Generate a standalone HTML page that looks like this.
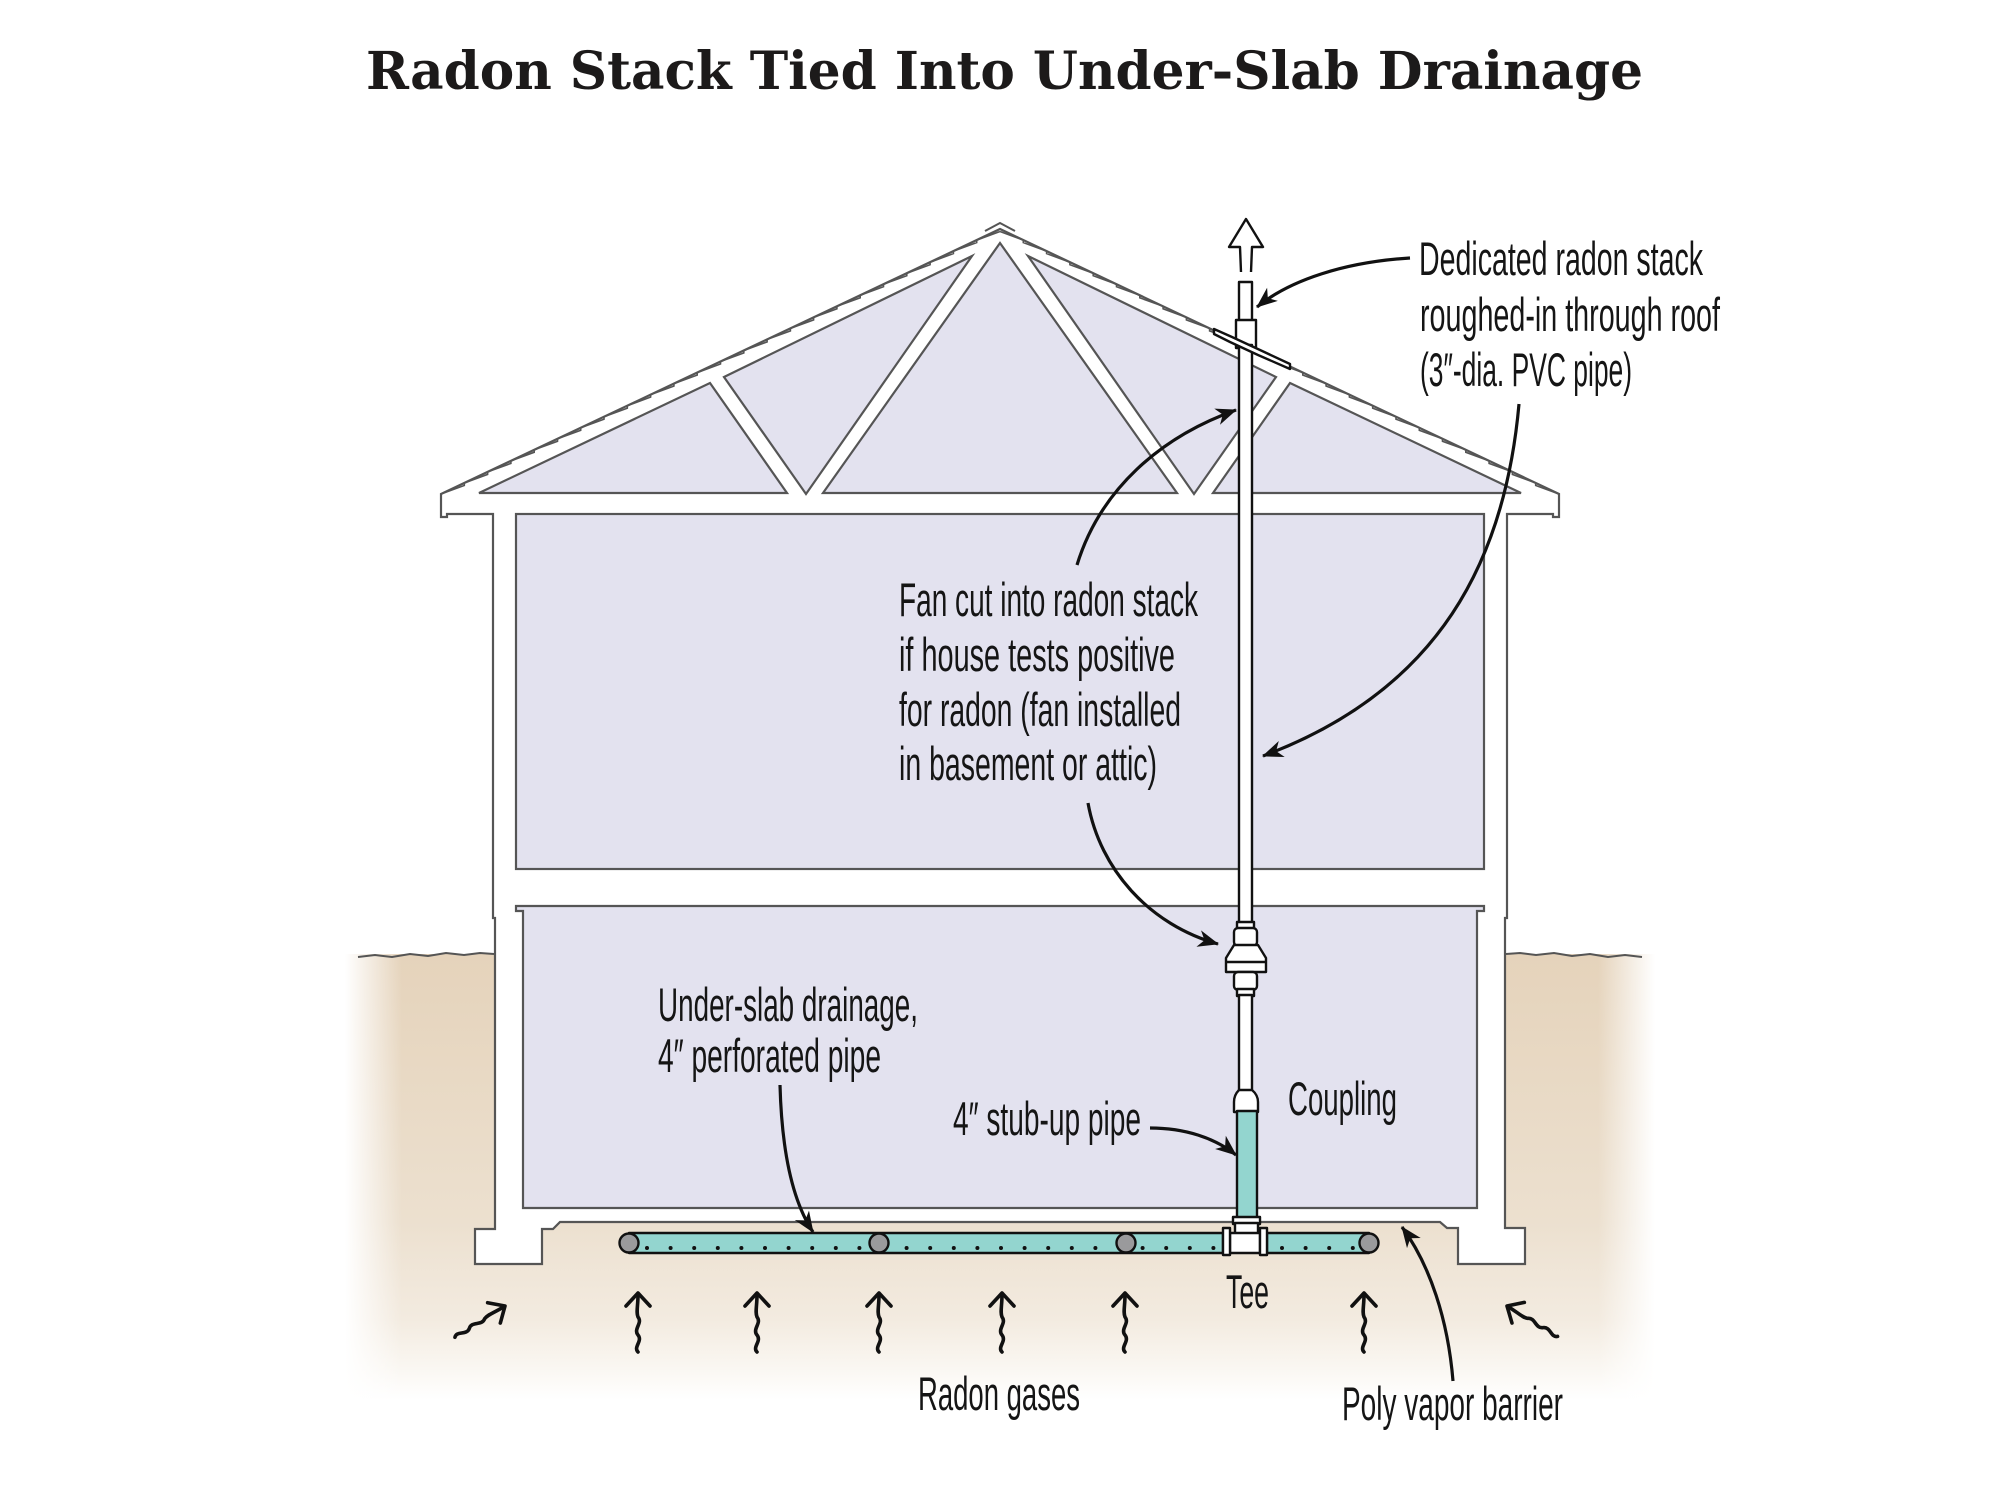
<!DOCTYPE html>
<html>
<head>
<meta charset="utf-8">
<style>
html,body{margin:0;padding:0;background:#fff;}
svg{display:block;}
.lbl{font-family:"Liberation Sans Narrow","Liberation Sans",sans-serif;font-size:47px;fill:#151515;}
</style>
</head>
<body>
<svg width="1999" height="1492" viewBox="0 0 1999 1492" xmlns="http://www.w3.org/2000/svg">
<defs>
  <linearGradient id="soilV" x1="0" y1="955" x2="0" y2="1400" gradientUnits="userSpaceOnUse">
    <stop offset="0" stop-color="#e5d3bb"/>
    <stop offset="0.6" stop-color="#ece0cf"/>
    <stop offset="0.82" stop-color="#f3ebe0"/>
    <stop offset="0.93" stop-color="#faf7f2"/>
    <stop offset="1" stop-color="#ffffff"/>
  </linearGradient>
  <linearGradient id="fadeL" x1="345" y1="0" x2="402" y2="0" gradientUnits="userSpaceOnUse">
    <stop offset="0" stop-color="#fff" stop-opacity="1"/>
    <stop offset="1" stop-color="#fff" stop-opacity="0"/>
  </linearGradient>
  <linearGradient id="fadeR" x1="1598" y1="0" x2="1655" y2="0" gradientUnits="userSpaceOnUse">
    <stop offset="0" stop-color="#fff" stop-opacity="0"/>
    <stop offset="1" stop-color="#fff" stop-opacity="1"/>
  </linearGradient>
  <marker id="ah" viewBox="-22 -10 24 20" refX="0" refY="0" markerWidth="24" markerHeight="20" markerUnits="userSpaceOnUse" orient="auto">
    <path d="M1,0 L-20,-8.5 L-14,0 L-20,8.5 Z" fill="#111"/>
  </marker>
  <g id="ra" fill="none" stroke="#111" stroke-width="3.6" stroke-linecap="round" stroke-linejoin="round">
    <path d="M0,59 C-5,54 5,48 0,42 C-5,36 5,30 0,24 C-2,19 0,13 0,2"/>
    <path d="M-12,13 L0,0 L12,13"/>
  </g>
</defs>

<!-- Title -->
<text x="366" y="89" font-family="'DejaVu Serif','Liberation Serif',serif" font-weight="bold" font-size="52" fill="#1c1a1a" textLength="1277" lengthAdjust="spacingAndGlyphs">Radon Stack Tied Into Under-Slab Drainage</text>

<!-- Soil -->
<rect x="345" y="954" width="1310" height="450" fill="url(#soilV)"/>
<rect x="340" y="950" width="64" height="460" fill="url(#fadeL)"/>
<rect x="1596" y="950" width="64" height="460" fill="url(#fadeR)"/>
<path d="M358,957 L375,955 L392,957 L410,954 L428,956 L446,953 L464,955 L480,953 L494,954" fill="none" stroke="#555" stroke-width="2"/>
<path d="M1506,954 L1520,953 L1536,955 L1554,953 L1572,956 L1590,954 L1608,957 L1625,955 L1642,957" fill="none" stroke="#555" stroke-width="2"/>

<!-- House silhouette -->
<path d="M441,494 L1000,229 L1559,494 L1559,517 L1553,517 L1553,514 L1507,514 L1507,918 L1505,918 L1505,1228 L1525,1228 L1525,1264 L1458,1264 L1458,1228 L1447,1228 L1440,1222 L560,1222 L553,1229 L542,1229 L542,1264 L475,1264 L475,1229 L495,1229 L495,918 L493,918 L493,514 L447,514 L447,517 L441,517 Z" fill="#fff" stroke="#555" stroke-width="2.2" stroke-linejoin="miter"/>
<!-- shingle steps -->
<path fill="none" stroke="#555" stroke-width="1.6" d="M441,494 L464.3,485.5 L464.3,483.0 L487.6,474.4 L487.6,471.9 L510.9,463.4 L510.9,460.9 L534.2,452.3 L534.2,449.8 L557.5,441.3 L557.5,438.8 L580.7,430.3 L580.7,427.8 L604.0,419.2 L604.0,416.7 L627.3,408.2 L627.3,405.7 L650.6,397.1 L650.6,394.6 L673.9,386.1 L673.9,383.6 L697.2,375.1 L697.2,372.6 L720.5,364.0 L720.5,361.5 L743.8,353.0 L743.8,350.5 L767.1,341.9 L767.1,339.4 L790.4,330.9 L790.4,328.4 L813.6,319.9 L813.6,317.4 L836.9,308.8 L836.9,306.3 L860.2,297.8 L860.2,295.3 L883.5,286.7 L883.5,284.2 L906.8,275.7 L906.8,273.2 L930.1,264.7 L930.1,262.2 L953.4,253.6 L953.4,251.1 L976.7,242.6 L976.7,240.1 L1000,231.5"/>
<path fill="none" stroke="#555" stroke-width="1.6" d="M1559,494 L1535.7,485.5 L1535.7,483.0 L1512.4,474.4 L1512.4,471.9 L1489.1,463.4 L1489.1,460.9 L1465.8,452.3 L1465.8,449.8 L1442.5,441.3 L1442.5,438.8 L1419.3,430.3 L1419.3,427.8 L1396.0,419.2 L1396.0,416.7 L1372.7,408.2 L1372.7,405.7 L1349.4,397.1 L1349.4,394.6 L1326.1,386.1 L1326.1,383.6 L1302.8,375.1 L1302.8,372.6 L1279.5,364.0 L1279.5,361.5 L1256.2,353.0 L1256.2,350.5 L1232.9,341.9 L1232.9,339.4 L1209.6,330.9 L1209.6,328.4 L1186.4,319.9 L1186.4,317.4 L1163.1,308.8 L1163.1,306.3 L1139.8,297.8 L1139.8,295.3 L1116.5,286.7 L1116.5,284.2 L1093.2,275.7 L1093.2,273.2 L1069.9,264.7 L1069.9,262.2 L1046.6,253.6 L1046.6,251.1 L1023.3,242.6 L1023.3,240.1 L1000,231.5"/>
<!-- ridge cap -->
<path d="M985,231 L1000,223 L1015,231" fill="none" stroke="#555" stroke-width="2"/>

<!-- Rooms -->
<rect x="516" y="514" width="968" height="355" fill="#e3e2ef" stroke="#555" stroke-width="2.2"/>
<path d="M516,906 L1484,906 L1484,911 L1477,911 L1477,1208 L523,1208 L523,911 L516,911 Z" fill="#e3e2ef" stroke="#555" stroke-width="2.2"/>

<!-- Attic truss triangles -->
<g fill="#e3e2ef" stroke="#555" stroke-width="2.2" stroke-linejoin="miter">
  <polygon points="479,493 710,383 787,493"/>
  <polygon points="724,377 972,256 806,494"/>
  <polygon points="1000,243 823,493 1177,493"/>
  <polygon points="1028,256 1276,377 1194,494"/>
  <polygon points="1290,383 1521,493 1213,493"/>
</g>

<!-- Stack -->
<g stroke="#111" stroke-width="2.4" fill="#fff" stroke-linejoin="round">
  <path d="M1241,272 L1240,247 L1229,247 L1246,219 L1263,247 L1252,247 L1251,272" fill="#fff"/>
  <rect x="1239" y="282" width="13" height="40"/>
  <rect x="1236" y="320" width="20" height="28"/>
  <rect x="1239" y="345" width="13" height="580"/>
  <polygon points="1214,329 1232,337 1260,350 1290,364 1290,369 1258,355 1230,342 1214,334"/>
  <!-- fan -->
  <rect x="1237" y="922" width="17" height="7"/>
  <rect x="1234" y="928" width="23" height="18" rx="4"/>
  <polygon points="1234,945 1258,945 1266,958 1266,972 1226,972 1226,958"/>
  <line x1="1226" y1="962" x2="1266" y2="962"/>
  <rect x="1234" y="972" width="23" height="18" rx="4"/>
  <rect x="1237" y="989" width="17" height="7"/>
  <rect x="1239" y="995" width="13" height="98"/>
  <path d="M1239,1090 L1252,1090 Q1258,1095 1258,1102 L1258,1112 L1234,1112 L1234,1102 Q1234,1095 1239,1090 Z"/>
  <rect x="1237" y="1111" width="20" height="107" fill="#93d5cf"/>
  <rect x="1233" y="1217" width="27" height="7"/>
  <!-- horizontal drainage pipe -->
  <rect x="629" y="1233" width="594" height="20" fill="#93d5cf"/>
  <rect x="1267" y="1233" width="102" height="20" fill="#93d5cf"/>
  <!-- tee -->
  <rect x="1235" y="1223" width="23" height="12"/>
  <rect x="1230" y="1233" width="30" height="20"/>
  <rect x="1223" y="1228" width="7" height="27"/>
  <rect x="1260" y="1228" width="7" height="27"/>
</g>
<!-- perforation dots -->
<line x1="647" y1="1248" x2="1218" y2="1248" stroke="#111" stroke-width="4" stroke-linecap="round" stroke-dasharray="0 23.6"/>
<line x1="1282" y1="1248" x2="1356" y2="1248" stroke="#111" stroke-width="4" stroke-linecap="round" stroke-dasharray="0 23.6"/>
<g fill="#9a9a9c" stroke="#111" stroke-width="2.4">
  <circle cx="629" cy="1243" r="9.5"/>
  <circle cx="879" cy="1243" r="9.5"/>
  <circle cx="1126" cy="1243" r="9.5"/>
  <circle cx="1369" cy="1243" r="9.5"/>
</g>

<!-- Leader arrows -->
<g fill="none" stroke="#111" stroke-width="3.2" marker-end="url(#ah)">
  <path d="M1410,258 C1345,262 1290,280 1257,307"/>
  <path d="M1077,565 C1100,490 1160,437 1236,410"/>
  <path d="M1088,803 C1100,870 1150,925 1218,944"/>
  <path d="M1519,404 C1505,560 1440,690 1263,756"/>
  <path d="M780,1085 C782,1160 795,1205 813,1232"/>
  <path d="M1150,1128 C1185,1128 1215,1138 1236,1155"/>
  <path d="M1453,1381 C1448,1320 1430,1265 1402,1227"/>
</g>

<!-- Radon gas arrows -->
<use href="#ra" transform="translate(638,1293)"/>
<use href="#ra" transform="translate(757,1293)"/>
<use href="#ra" transform="translate(879,1293)"/>
<use href="#ra" transform="translate(1002,1293)"/>
<use href="#ra" transform="translate(1125,1293)"/>
<use href="#ra" transform="translate(1364,1293)"/>
<use href="#ra" transform="translate(505,1306) rotate(58)"/>
<use href="#ra" transform="translate(1507,1306) rotate(-59)"/>

<!-- Labels -->
<text class="lbl" x="1419" y="275" textLength="284" lengthAdjust="spacingAndGlyphs">Dedicated radon stack</text>
<text class="lbl" x="1420" y="331" textLength="300" lengthAdjust="spacingAndGlyphs">roughed-in through roof</text>
<text class="lbl" x="1420" y="386" textLength="212" lengthAdjust="spacingAndGlyphs">(3″-dia. PVC pipe)</text>

<text class="lbl" x="899" y="616" textLength="299" lengthAdjust="spacingAndGlyphs">Fan cut into radon stack</text>
<text class="lbl" x="899" y="671" textLength="276" lengthAdjust="spacingAndGlyphs">if house tests positive</text>
<text class="lbl" x="899" y="726" textLength="282" lengthAdjust="spacingAndGlyphs">for radon (fan installed</text>
<text class="lbl" x="899" y="780" textLength="258" lengthAdjust="spacingAndGlyphs">in basement or attic)</text>

<text class="lbl" x="658" y="1021" textLength="260" lengthAdjust="spacingAndGlyphs">Under-slab drainage,</text>
<text class="lbl" x="658" y="1072" textLength="223" lengthAdjust="spacingAndGlyphs">4″ perforated pipe</text>

<text class="lbl" x="953" y="1135" textLength="188" lengthAdjust="spacingAndGlyphs">4″ stub-up pipe</text>
<text class="lbl" x="1288" y="1115" textLength="109" lengthAdjust="spacingAndGlyphs">Coupling</text>
<text class="lbl" x="1226" y="1308" textLength="43" lengthAdjust="spacingAndGlyphs">Tee</text>
<text class="lbl" x="918" y="1410" textLength="162" lengthAdjust="spacingAndGlyphs">Radon gases</text>
<text class="lbl" x="1342" y="1420" textLength="221" lengthAdjust="spacingAndGlyphs">Poly vapor barrier</text>
</svg>
</body>
</html>
